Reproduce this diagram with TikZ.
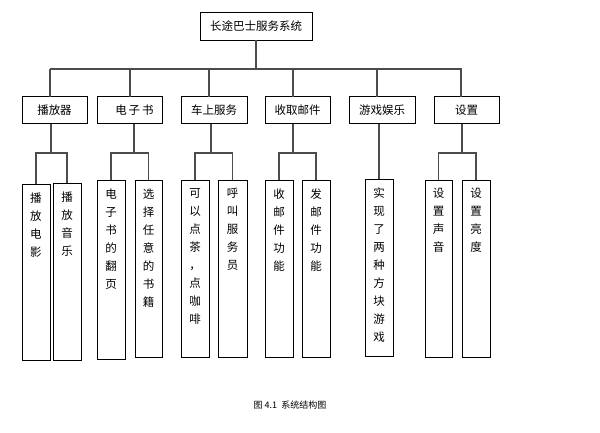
\documentclass[tikz,border=0pt]{standalone}
\usepackage{fontspec}
\setmainfont{Noto Sans CJK SC}
\usetikzlibrary{positioning}

\tikzset{
  box/.style={draw=black, line width=0.8pt, inner sep=0pt, font=\fontsize{11.5}{13}\selectfont},
  leaf/.style={box, anchor=north, minimum width=28pt},
  conn/.style={draw=black!70, line width=1.2pt}
}
\newcommand{\vt}[2]{\parbox[c][#1][t]{13pt}{\vspace{8pt}\baselineskip=18pt\centering #2}}

\begin{document}
\begin{tikzpicture}[x=1pt,y=-1pt]
\useasboundingbox (0,0) rectangle (600,432);

%TOP
\node[box, minimum width=112pt, minimum height=28pt] (sys) at (256,26) {长途巴士服务系统};

%SECOND LEVEL
\node[box, minimum width=65pt, minimum height=27pt] (play) at (54.5,110) {播放器\hspace{18pt}};
\node[box, minimum width=65pt, minimum height=27pt] (book) at (129.5,110) {\hspace{10pt}电\,子\,书};
\node[box, minimum width=66pt, minimum height=27pt] (serv) at (214,110) {车上服务};
\node[box, minimum width=65pt, minimum height=27pt] (mail) at (297.5,110) {收取邮件};
\node[box, minimum width=66pt, minimum height=27pt] (game) at (382,110) {游戏娱乐};
\node[box, minimum width=65pt, minimum height=27pt] (set) at (466.5,110) {设置};

%LEAVES
\node[leaf] (p1) at (36,184) {\vt{176pt}{播\\放\\电\\影}};
\node[leaf] (p2) at (67,183) {\vt{177pt}{播\\放\\音\\乐}};
\node[leaf] (b1) at (111,180) {\vt{179pt}{电\\子\\书\\的\\翻\\页}};
\node[leaf, minimum width=27pt] (b2) at (148.5,180) {\vt{177pt}{选\\择\\任\\意\\的\\书\\籍}};
\node[leaf] (s1) at (195,180) {\vt{177pt}{可\\以\\点\\茶\\，\\点\\咖\\啡}};
\node[leaf, minimum width=29pt] (s2) at (232.5,180) {\vt{177pt}{呼\\叫\\服\\务\\员}};
\node[leaf] (m1) at (279,180) {\vt{177pt}{收\\邮\\件\\功\\能}};
\node[leaf] (m2) at (316,180) {\vt{177pt}{发\\邮\\件\\功\\能}};
\node[leaf] (g1) at (379,179) {\vt{177pt}{实\\现\\了\\两\\种\\方\\块\\游\\戏}};
\node[leaf, minimum width=27pt] (t1) at (438.5,180) {\vt{177pt}{设\\置\\声\\音}};
\node[leaf] (t2) at (476,180) {\vt{177pt}{设\\置\\亮\\度}};

%CONNECTORS
\draw[conn] (sys.south) -- (256,69);
\draw[conn] (50,69) -- (462,69);
\foreach \n/\x in {play/50,book/130,serv/209,mail/293,game/377,set/461}
  \draw[conn] (\x,69) -- (\x,96.5);
\foreach \p/\a/\b/\x in {play/p1/p2/51,book/b1/b2/134,serv/s1/s2/211,mail/m1/m2/293,set/t1/t2/462}{
  \draw[conn] (\x,123.5) -- (\x,153);
  \draw[conn] (\a.north) -- (\a.north |- 0,153) -- (\b.north |- 0,153) -- (\b.north);
}
\draw[conn] (g1.north |- game.south) -- (g1.north);

%CAPTION
\node[font=\fontsize{9}{11}\selectfont] (cap) at (290,405) {图 4.1\ \ 系统结构图};
\end{tikzpicture}
\end{document}
